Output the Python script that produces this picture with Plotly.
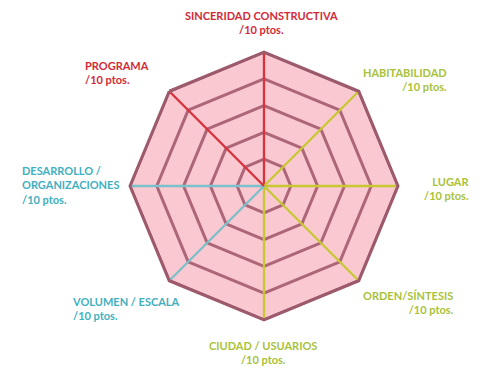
import plotly.graph_objects as go

criterios = ["SINCERIDAD CONSTRUCTIVA", "HABITABILIDAD", "LUGAR", "ORDEN/SÍNTESIS",
             "CIUDAD / USUARIOS", "VOLUMEN / ESCALA", "DESARROLLO / ORGANIZACIONES", "PROGRAMA"]
puntos = [10, 10, 10, 10, 10, 10, 10, 10]
maximo = 10
grupos = ["rojo", "verde", "verde", "verde", "verde", "azul", "azul", "rojo"]

colores = {"rojo": "#d8323c", "verde": "#c8c832", "azul": "#7cc0cc"}
texto_col = {"rojo": "#d42a36", "verde": "#a8c23a", "azul": "#3fb0c0"}

fig = go.Figure()

fig.add_trace(go.Scatterpolar(
    r=puntos + [puntos[0]], theta=criterios + [criterios[0]],
    mode="lines", fill="toself", fillcolor="rgba(240,118,138,0.40)",
    line=dict(color="#9c5a6c", width=3), hoverinfo="skip", showlegend=False))

# radios de colores
for c, g in zip(criterios, grupos):
    fig.add_trace(go.Scatterpolar(
        r=[0, maximo], theta=[c, c], mode="lines",
        line=dict(color=colores[g], width=2.3), hoverinfo="skip", showlegend=False))

W, H = 481, 368
cx, cy, rad = 264, 186, 134

fig.update_layout(
    width=W, height=H,
    margin=dict(l=0, r=0, t=0, b=0),
    paper_bgcolor="white",
    polar=dict(
        domain=dict(x=[(cx - rad) / W, (cx + rad) / W], y=[1 - (cy + rad) / H, 1 - (cy - rad) / H]),
        gridshape="linear",
        bgcolor="white",
        radialaxis=dict(range=[0, maximo], dtick=2, tick0=0, showticklabels=False, ticks="",
                        showline=False, gridcolor="#7f5c6c", gridwidth=2.5),
        angularaxis=dict(direction="clockwise", rotation=90, showticklabels=False, ticks="",
                         showgrid=False, showline=True, linecolor="#9c5a6c", linewidth=3),
    ),
    font=dict(family="Lato", size=11),
)

# etiquetas (posición en píxeles, alineación)
etiquetas = [
    (261, 22, "center"),
    (449, 80, "right"),
    (471, 188, "right"),
    (456, 302, "right"),
    (263, 352, "center"),
    (70, 308, "left"),
    (20, 185, "left"),
    (83, 72, "left"),
]
for c, g, (x, y, al) in zip(criterios, grupos, etiquetas):
    txt = c.replace("DESARROLLO / ", "DESARROLLO /<br>") + "<br>/%d ptos." % maximo
    fig.add_annotation(x=x / W, y=1 - y / H, xref="paper", yref="paper", text="<b>%s</b>" % txt,
                       showarrow=False, xanchor=al, yanchor="middle", align=al,
                       font=dict(color=texto_col[g], size=11, family="Lato"))

fig.write_html("out.html", config={"displayModeBar": False},
               post_script="document.body.style.margin='0px';")
